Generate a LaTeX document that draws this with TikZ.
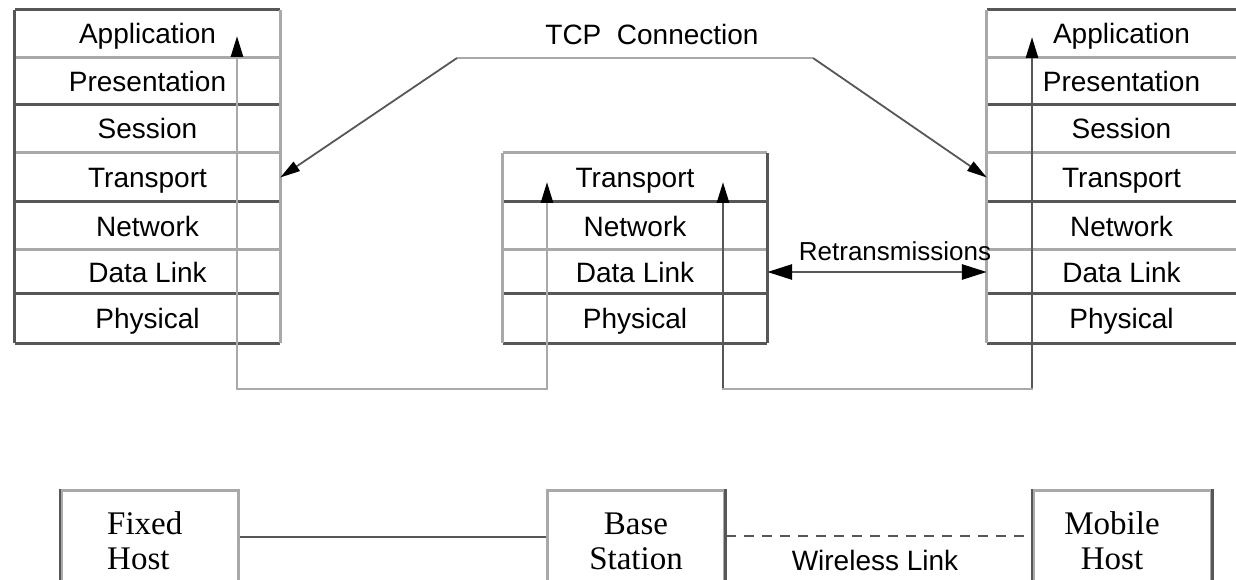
\documentclass[tikz,border=0pt]{standalone}
\usepackage{fontspec}
\setmainfont{Liberation Serif}
\setsansfont{Liberation Sans}
\usetikzlibrary{arrows.meta}
\definecolor{lineDark}{HTML}{575757}
\definecolor{lineLight}{HTML}{A9A9A9}

\begin{document}
\begin{tikzpicture}[x=1pt,y=-1pt,
  dk/.style={draw=lineDark, line width=2.8pt},
  lt/.style={draw=lineLight, line width=2.8pt},
  thinline/.style={draw=lineDark, line width=1.8pt},
  layer/.style={inner sep=0pt, text height=20pt, text depth=0pt,
    font=\sffamily\fontsize{28}{32}\selectfont},
  smalllabel/.style={inner sep=0pt, text height=18pt, text depth=0pt,
    font=\sffamily\fontsize{26}{30}\selectfont},
  hostbox/.style={draw=lineLight, line width=2.8pt, inner sep=0pt,
    minimum height=140pt, anchor=north west},
  hosttext/.style={inner sep=0pt, font=\rmfamily\fontsize{33}{35}\selectfont},
  uptip/.style={-{Triangle[length=21pt,width=12pt,color=black,fill=black]}},
  bothtips/.style={{Triangle[length=21pt,width=12pt,color=black,fill=black]}-{Triangle[length=21pt,width=12pt,color=black,fill=black]}},
  slanttip/.style={-{Triangle[length=20pt,width=11pt,color=black,fill=black]}},
  retxtips/.style={{Triangle[length=25pt,width=15pt,color=black,fill=black]}-{Triangle[length=25pt,width=15pt,color=black,fill=black]}},
]
\useasboundingbox (0,0) rectangle (1236,580);

% ---- protocol stacks: name/text/top/bottom/rule style of the top edge
\foreach \n/\t/\a/\b/\s in {App/Application/10/58/dk, Pre/Presentation/58/105/lt,
    Ses/Session/105/153/dk, Tra/Transport/153/202/lt, Net/Network/202/250/dk,
    Dat/Data Link/250/294/lt, Phy/Physical/294/343/dk}{
  \node[layer, minimum width=265pt, minimum height={(\b-\a)*1pt}] (l\n) at (147.5,{(\a+\b)/2}) {\t};
  \draw[\s] (l\n.north west) -- (l\n.north east);
  \node[layer, minimum width=269pt, minimum height={(\b-\a)*1pt}] (r\n) at (1121.5,{(\a+\b)/2}) {\t};
  \draw[\s] (r\n.north west) -- (r\n.north east);
}
\foreach \n/\t/\a/\b/\s in {Tra/Transport/153/202/lt, Net/Network/202/250/dk,
    Dat/Data Link/250/294/lt, Phy/Physical/294/343/dk}{
  \node[layer, minimum width=264pt, minimum height={(\b-\a)*1pt}] (m\n) at (635,{(\a+\b)/2}) {\t};
  \draw[\s] (m\n.north west) -- (m\n.north east);
}
% bottom rules and side borders
\draw[dk] (lPhy.south west) -- (lPhy.south east);
\draw[dk] (mPhy.south west) -- (mPhy.south east);
\draw[dk] (rPhy.south west) -- (rPhy.south east);
\draw[dk] (lApp.north west) -- (lPhy.south west);
\draw[lt] (lApp.north east) -- (lPhy.south east);
\draw[lt] (mTra.north west) -- (mPhy.south west);
\draw[dk] (mTra.north east) -- (mPhy.south east);
\draw[lt] (rApp.north west) -- (rPhy.south west);

% ---- data path through the stacks
\coordinate (lPipeTop) at (237,36);
\coordinate (lPipeBot) at (237,389);
\coordinate (mPipeLTop) at (547,182);
\coordinate (mPipeLBot) at (547,389);
\coordinate (mPipeRTop) at (723,182);
\coordinate (mPipeRBot) at (723,389);
\coordinate (rPipeTop) at (1032,37);
\coordinate (rPipeBot) at (1032,389);
\draw[lt, bothtips] (lPipeTop) -- (lPipeBot) -- (mPipeLBot) -- (mPipeLTop);
\draw[dk, uptip] (mPipeRBot) -- (mPipeRTop);
\draw[dk, uptip] (rPipeBot) -- (rPipeTop);
\draw[lt, line cap=rect] (mPipeRBot) -- (rPipeBot);

% ---- end-to-end TCP connection
\node[layer] (tcp) at (652,35) {TCP\ \ Connection};
\coordinate (tcpL) at (457,58);
\coordinate (tcpR) at (813,58);
\draw[lt] (tcpL) -- (tcpR);
\draw[thinline, slanttip] (tcpL) -- (lTra.east);
\draw[thinline, slanttip] (tcpR) -- (rTra.west);

% ---- link-layer retransmissions
\draw[dk, retxtips] (mDat.east) -- (rDat.west);
\node[smalllabel] (retx) at (895,251) {Retransmissions};

% ---- hosts and links
\node[hostbox, minimum width=177pt] (fixed) at (60,489) {};
\node[hostbox, minimum width=177pt] (base) at (546,489) {};
\node[hostbox, minimum width=178pt] (mobile) at (1032,489) {};
\draw[dk] (fixed.north west) -- (fixed.south west);
\draw[dk] (base.north east) -- (base.south east);
\draw[dk] (mobile.north west) -- (mobile.south west);
\draw[dk] (mobile.north east) -- (mobile.south east);

\node[hosttext, align=left, anchor=west] (fixedTxt) at (107,541) {Fixed\\Host};
\node[hosttext, align=center] (baseTxt) at (636,541) {Base\\Station};
\node[hosttext, align=center] (mobileTxt) at (1112,541) {Mobile\\Host};

\draw[dk] ([yshift=-48pt]fixed.north east) -- ([yshift=-48pt]base.north west);
\draw[dk, dash pattern=on 10pt off 8pt] ([yshift=-47pt]base.north east) -- ([yshift=-47pt]mobile.north west);
\node[layer] (wireless) at (875,560) {Wireless Link};
\end{tikzpicture}
\end{document}
